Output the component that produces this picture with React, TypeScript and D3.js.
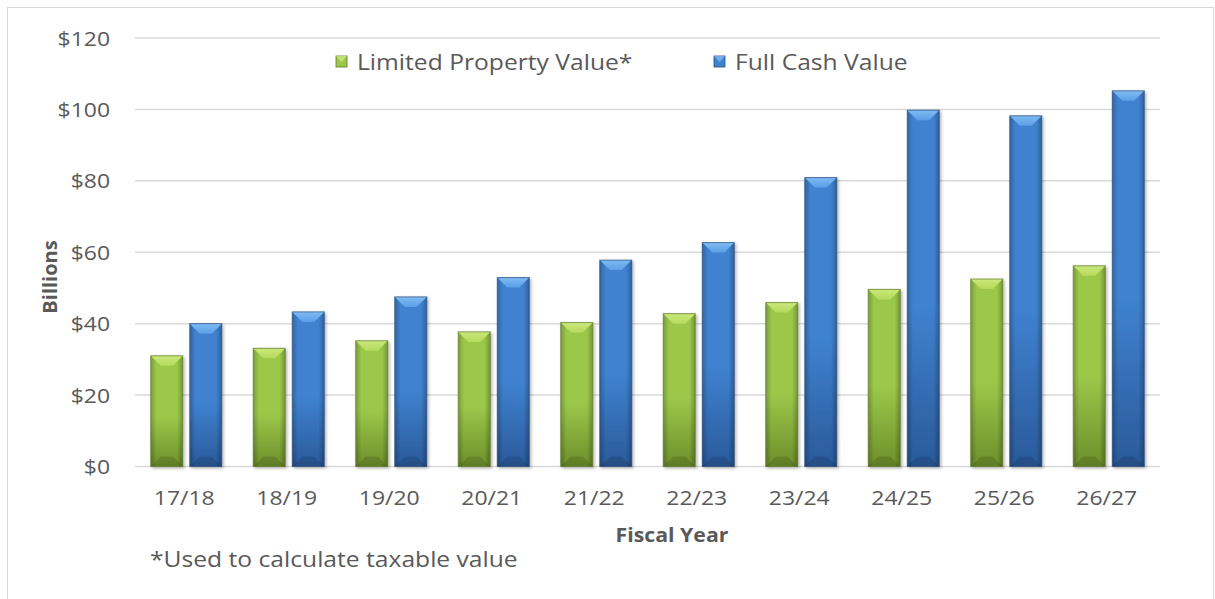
import React from "react";
import * as d3 from "d3";

const categories = ["17/18", "18/19", "19/20", "20/21", "21/22", "22/23", "23/24", "24/25", "25/26", "26/27"];
const seriesNames = ["Limited Property Value*", "Full Cash Value"];
const limitedValues = [31.0, 33.1, 35.2, 37.7, 40.3, 42.8, 45.9, 49.6, 52.5, 56.2];
const fullCashValues = [40.0, 43.3, 47.5, 52.9, 57.8, 62.7, 80.9, 99.8, 98.2, 105.2];
const yTicks = [0, 20, 40, 60, 80, 100, 120];

const W = 1215;
const H = 599;
const FONT = "'Open Sans', 'Noto Sans', sans-serif";
const TXT = "#595959";
const SX = 1.12;

function STxt(props: { x: number; y: number; anchor?: string; size: number; weight?: any; children: any; rotate?: boolean }) {
  const { x, y, anchor = "start", size, weight = "normal", children, rotate } = props;
  const tr = rotate ? `translate(${x},${y}) rotate(-90) scale(1,1)` : `translate(${x},${y}) scale(${SX},1)`;
  return (
    <text transform={tr} textAnchor={anchor as any} fontSize={size} fontWeight={weight} fill={TXT} fontFamily={FONT}>
      {children}
    </text>
  );
}

export default function App() {
  const left = 135, right = 1160, top = 38, bottom = 466.5;
  const x = d3.scaleBand<string>().domain(categories).range([left, right]).paddingInner(0.307).paddingOuter(0.1535);
  const xs = d3.scaleBand<string>().domain(seriesNames).range([0, x.bandwidth()]).paddingInner(0.18).paddingOuter(0);
  const y = d3.scaleLinear().domain([0, 120]).range([bottom, top]);

  const palettes = [
    { id: "g", light: "#cbe87c", main: "#9cc84a", dark: "#6d8f2b", edge: "#5f7a2a", bevel: "#b5da5c" },
    { id: "b", light: "#80bcf4", main: "#3f82d0", dark: "#2a5a9a", edge: "#2a4d7e", bevel: "#5a9ee6" },
  ];
  const data = [limitedValues, fullCashValues];

  return (
    <svg width={W} height={H} style={{ position: "absolute", left: 0, top: 0, background: "#fff" }}>
      <defs>
        {palettes.map((p) => (
          <React.Fragment key={p.id}>
            <linearGradient id={`body-${p.id}`} x1="0" y1="0" x2="0" y2="1">
              <stop offset="0" stopColor={p.main} />
              <stop offset="0.55" stopColor={p.main} />
              <stop offset="1" stopColor={p.dark} />
            </linearGradient>
            <linearGradient id={`side-${p.id}`} x1="0" y1="0" x2="1" y2="0">
              <stop offset="0" stopColor="#000" stopOpacity="0.22" />
              <stop offset="0.18" stopColor="#000" stopOpacity="0" />
              <stop offset="0.82" stopColor="#000" stopOpacity="0" />
              <stop offset="1" stopColor="#000" stopOpacity="0.25" />
            </linearGradient>
            <linearGradient id={`top-${p.id}`} x1="0" y1="0" x2="0" y2="1">
              <stop offset="0" stopColor={p.light} />
              <stop offset="1" stopColor={p.bevel} />
            </linearGradient>
          </React.Fragment>
        ))}
        <filter id="shadow" x="-20%" y="-5%" width="140%" height="110%">
          <feDropShadow dx="1.5" dy="1.5" stdDeviation="1.5" floodColor="#000" floodOpacity="0.3" />
        </filter>
      </defs>
      <rect x={7.5} y={7.5} width={1206} height={600} fill="#fff" stroke="#d9d9d9" strokeWidth={1} />

      {yTicks.map((t) => (
        <g key={t}>
          <line x1={left} x2={right} y1={y(t)} y2={y(t)} stroke="#d9d9d9" strokeWidth={1.5} />
          <STxt x={110} y={y(t) + 7.5} anchor="end" size={20.5}>{`$${t}`}</STxt>
        </g>
      ))}

      {categories.map((c, i) => (
        <g key={c}>
          {seriesNames.map((s, j) => {
            const p = palettes[j];
            const v = data[j][i];
            const bx = (x(c) as number) + (xs(s) as number);
            const bw = xs.bandwidth();
            const by = y(v);
            const bh = y(0) - by;
            const bv = 10;
            return (
              <g key={s} filter="url(#shadow)">
                <rect x={bx} y={by} width={bw} height={bh} fill={`url(#body-${p.id})`} />
                <rect x={bx} y={by} width={bw} height={bh} fill={`url(#side-${p.id})`} />
                <polygon
                  points={`${bx},${by} ${bx + bw},${by} ${bx + bw - bv},${by + bv} ${bx + bv},${by + bv}`}
                  fill={`url(#top-${p.id})`}
                />
                <polygon
                  points={`${bx},${by + bh} ${bx + bw},${by + bh} ${bx + bw - bv},${by + bh - bv} ${bx + bv},${by + bh - bv}`}
                  fill="#000"
                  fillOpacity={0.12}
                />
                <rect x={bx} y={by} width={bw} height={bh} fill="none" stroke={p.edge} strokeOpacity={0.7} strokeWidth={1} />
              </g>
            );
          })}
          <STxt x={(x(c) as number) + x.bandwidth() / 2 - 2} y={505} anchor="middle" size={20.5}>{c}</STxt>
        </g>
      ))}

      {/* Legend */}
      {seriesNames.map((s, j) => {
        const p = palettes[j];
        const lx = j === 0 ? 336 : 714;
        return (
          <g key={s}>
            <rect x={lx} y={56} width={11} height={11} fill={p.main} stroke={p.edge} strokeWidth={0.8} />
            <polygon points={`${lx},56 ${lx + 11},56 ${lx + 5.5},62`} fill={p.light} opacity={0.8} />
            <STxt x={lx + 21} y={70} size={22}>{s}</STxt>
          </g>
        );
      })}

      <STxt x={57} y={277} anchor="middle" size={20} weight="bold" rotate>Billions</STxt>
      <STxt x={672} y={542} anchor="middle" size={19} weight="bold">Fiscal Year</STxt>
      <STxt x={150} y={567} size={22}>*Used to calculate taxable value</STxt>
    </svg>
  );
}
